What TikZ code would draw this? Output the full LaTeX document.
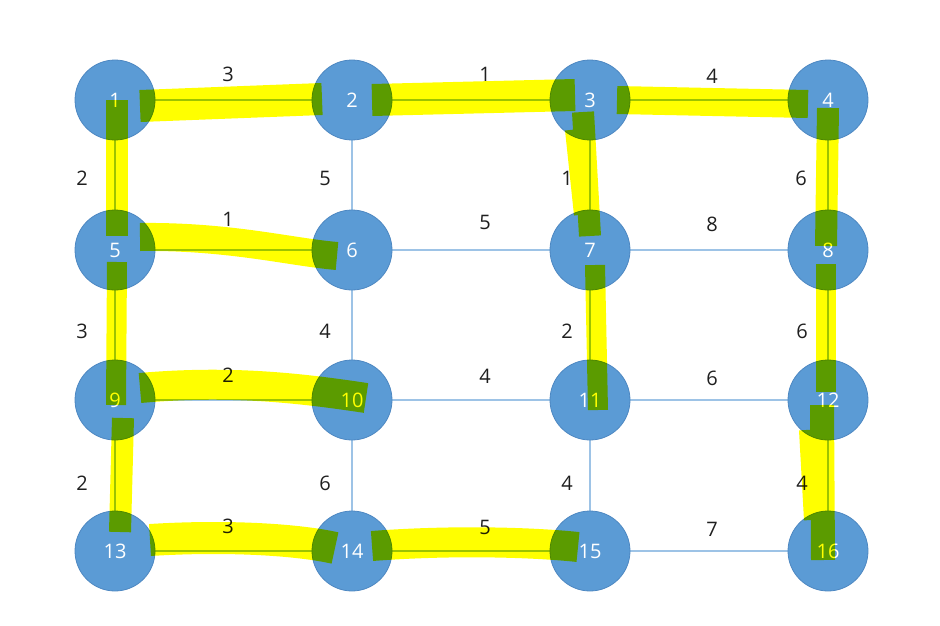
\documentclass[tikz,border=0pt]{standalone}
\usepackage{fontspec}
\setmainfont{Open Sans}
\definecolor{nodeblue}{HTML}{5B9BD5}
\definecolor{nodeedge}{HTML}{4E88C2}
\definecolor{edgeblue}{HTML}{9DC3E6}
\definecolor{hl}{HTML}{FFFF00}
\begin{document}
\begin{tikzpicture}[x=1pt,y=-1pt,
  vtx/.style={circle,fill=nodeblue,draw=nodeedge,line width=0.8pt,minimum size=80pt,inner sep=0pt,text=white,font=\fontsize{20}{20}\selectfont},
  gedge/.style={draw=edgeblue,line width=1.6pt},
  wlabel/.style={font=\fontsize{20}{20}\selectfont,text=black!88,inner sep=0pt},
  hlstroke/.style={draw=hl,line width=#1,line cap=butt,blend mode=multiply},
]
\useasboundingbox (0,0) rectangle (940,626);
% node centres
\coordinate (c1) at (115,100); \coordinate (c2) at (352,100); \coordinate (c3) at (590,100); \coordinate (c4) at (828,100);
\coordinate (c5) at (115,250); \coordinate (c6) at (352,250); \coordinate (c7) at (590,250); \coordinate (c8) at (828,250);
\coordinate (c9) at (115,400); \coordinate (c10) at (352,400); \coordinate (c11) at (590,400); \coordinate (c12) at (828,400);
\coordinate (c13) at (115,551); \coordinate (c14) at (352,551); \coordinate (c15) at (590,551); \coordinate (c16) at (828,551);
% edges
\foreach \a/\b in {1/2,2/3,3/4,5/6,6/7,7/8,9/10,10/11,11/12,13/14,14/15,15/16,1/5,5/9,9/13,2/6,6/10,10/14,3/7,7/11,11/15,4/8,8/12,12/16}
  \draw[gedge] (c\a) -- (c\b);
% nodes
\foreach \i in {1,...,16} \node[vtx] (n\i) at (c\i) {\i};
% weights, horizontal edges
\node[wlabel] (w1) at (228,74) {3};
\node[wlabel] (w2) at (485,74) {1};
\node[wlabel] (w3) at (712,76) {4};
\node[wlabel] (w4) at (228,219) {1};
\node[wlabel] (w5) at (485,222) {5};
\node[wlabel] (w6) at (712,224) {8};
\node[wlabel] (w7) at (228,375) {2};
\node[wlabel] (w8) at (485,376) {4};
\node[wlabel] (w9) at (712,378) {6};
\node[wlabel] (w10) at (228,526) {3};
\node[wlabel] (w11) at (485,527) {5};
\node[wlabel] (w12) at (712,529) {7};
% weights, vertical edges
\node[wlabel] (w13) at (82,178) {2};
\node[wlabel] (w14) at (325,178) {5};
\node[wlabel] (w15) at (567,178) {1};
\node[wlabel] (w16) at (801,178) {6};
\node[wlabel] (w17) at (82,331) {3};
\node[wlabel] (w18) at (325,331) {4};
\node[wlabel] (w19) at (567,331) {2};
\node[wlabel] (w20) at (802,331) {6};
\node[wlabel] (w21) at (82,483) {2};
\node[wlabel] (w22) at (325,483) {6};
\node[wlabel] (w23) at (567,483) {4};
\node[wlabel] (w24) at (802,483) {4};
% highlighter strokes
\draw[hlstroke=32pt] (140,106) -- (322,99);
\draw[hlstroke=32pt] (372,100) -- (575,95);
\draw[hlstroke=28pt] (617,100) -- (808,104);
\draw[hlstroke=28pt] (140,237) .. controls (230,236) and (290,252) .. (337,256);
\draw[hlstroke=30pt] (140,388) .. controls (230,380) and (300,388) .. (366,398);
\draw[hlstroke=32pt] (150,540) .. controls (230,535) and (300,540) .. (335,548);
\draw[hlstroke=30pt] (372,546) .. controls (450,540) and (530,542) .. (578,547);
\draw[hlstroke=22pt] (117,100) -- (117,236);
\draw[hlstroke=20pt] (117,262) -- (116,405);
\draw[hlstroke=22pt] (123,418) -- (120,532);
\draw[hlstroke=22pt] (583,112) -- (590,236);
\draw[hlstroke=10pt] (570,130) -- (579,215);
\draw[hlstroke=20pt] (595,265) -- (598,410);
\draw[hlstroke=22pt] (828,108) -- (826,246);
\draw[hlstroke=20pt] (826,264) -- (826,392);
\draw[hlstroke=24pt] (822,405) -- (823,560);
\draw[hlstroke=14pt] (806,430) -- (811,520);
\end{tikzpicture}
\end{document}
